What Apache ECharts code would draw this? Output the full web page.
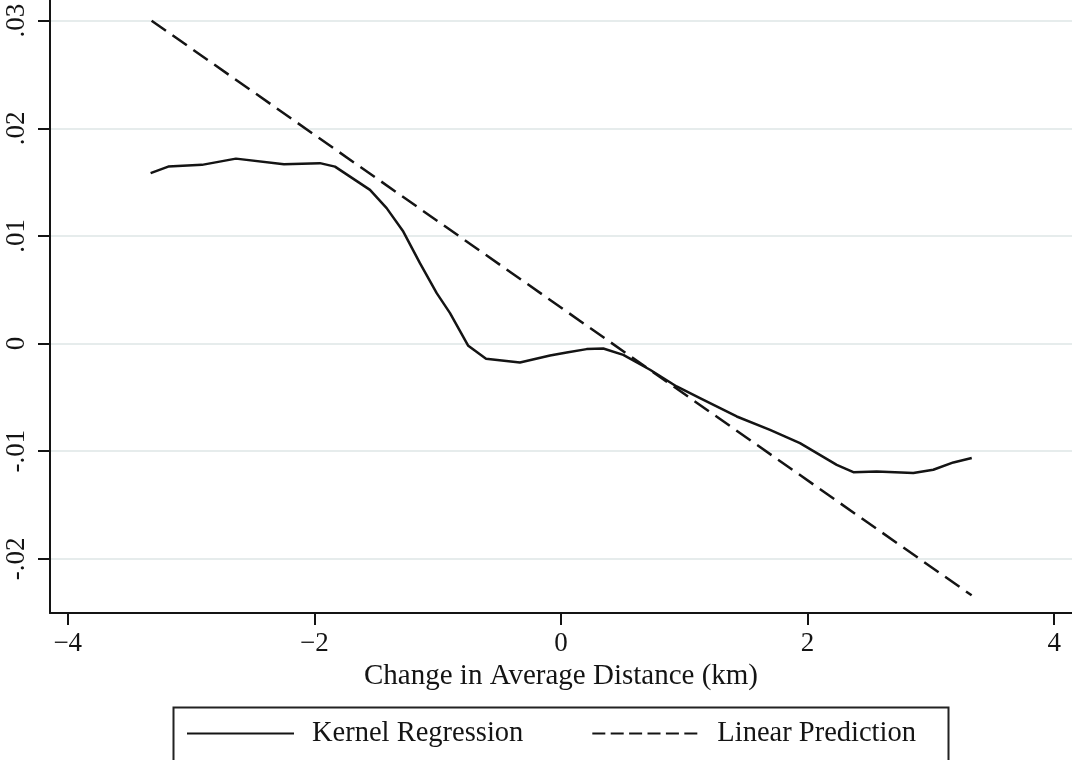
<!DOCTYPE html>
<html>
<head>
<meta charset="utf-8">
<script src="https://cdn.jsdelivr.net/npm/echarts@6/dist/echarts.min.js"></script>
<style>
  html, body { margin: 0; padding: 0; background: #ffffff; }
  #chart { width: 1072px; height: 760px; }
</style>
</head>
<body>
<div id="chart"></div>
<script>
// Kernel regression curve (x in km, y value)
const kernelX = [-3.328, -3.185, -2.912, -2.636, -2.247, -1.955, -1.833, -1.549, -1.414, -1.279,
                 -1.144, -1.008, -0.900, -0.752, -0.608, -0.333, -0.089, 0.046, 0.208, 0.343,
                 0.505, 0.722, 0.938, 1.127, 1.425, 1.695, 1.938, 2.236, 2.371, 2.560,
                 2.857, 3.019, 3.182, 3.331];
const kernelY = [0.01583, 0.01644, 0.01660, 0.01718, 0.01666, 0.01676, 0.01644, 0.01428, 0.01258, 0.01040,
                 0.00747, 0.00468, 0.00282, -0.00021, -0.00142, -0.00176, -0.00111, -0.00084, -0.00052, -0.00046,
                 -0.00105, -0.00244, -0.00399, -0.00507, -0.00678, -0.00802, -0.00925, -0.01127, -0.01195, -0.01189,
                 -0.01204, -0.01173, -0.01105, -0.01064];
// Linear prediction
const linearX = [-3.32, 3.33];
const linearY = [0.0300, -0.0234];
// Tick values
const xTicks = [-4, -2, 0, 2, 4];
const yTicks = [-0.02, -0.01, 0, 0.01, 0.02, 0.03];
const seriesNames = ['Kernel Regression', 'Linear Prediction'];
const xTitle = 'Change in Average Distance (km)';

const zip = (a, b) => a.map((v, i) => [v, b[i]]);
const FONT = 'Liberation Serif';
const INK = '#141414';

const chart = echarts.init(document.getElementById('chart'));
chart.setOption({
  backgroundColor: '#ffffff',
  animation: false,
  grid: { left: 50, right: 0, top: 0, bottom: 147, containLabel: false },
  xAxis: {
    type: 'value',
    min: -4.144, max: 4.144,
    name: xTitle,
    nameLocation: 'middle',
    nameGap: 42,
    nameTextStyle: { fontFamily: FONT, fontSize: 29, color: INK },
    axisLine: { onZero: false, lineStyle: { color: INK, width: 2 } },
    axisTick: { show: true, length: 12, lineStyle: { color: INK, width: 2 }, customValues: xTicks },
    axisLabel: {
      customValues: xTicks, margin: 17,
      fontFamily: FONT, fontSize: 27, color: INK,
      formatter: v => (v < 0 ? '\u2212' + Math.abs(v) : String(v))
    },
    splitLine: { show: false }
  },
  yAxis: {
    type: 'value',
    min: -0.02504, max: 0.03192,
    axisLine: { onZero: false, lineStyle: { color: INK, width: 2 } },
    axisTick: { show: true, length: 12, lineStyle: { color: INK, width: 2 }, customValues: yTicks },
    axisLabel: {
      customValues: yTicks, rotate: 90, margin: 20,
      fontFamily: FONT, fontSize: 27, color: INK,
      formatter: v => {
        if (Math.abs(v) < 1e-9) return '0';
        const s = Math.abs(v).toFixed(2).replace(/^0/, '');
        return (v < 0 ? '-' : '') + s;
      }
    },
    splitLine: { show: true, lineStyle: { color: '#e6ecec', width: 2 } }
  },
  legend: {
    left: 186, top: 719, padding: 0,
    itemWidth: 107, itemHeight: 14, itemGap: 68,
    itemStyle: { opacity: 0 },
    textStyle: { fontFamily: FONT, fontSize: 28.5, color: INK, padding: [0, 0, 0, 13] },
    data: [
      { name: seriesNames[0] },
      { name: seriesNames[1], lineStyle: { type: [13, 5.4] } }
    ]
  },
  graphic: [{
    type: 'rect', z: 100,
    shape: { x: 173.5, y: 707.5, width: 775, height: 80 },
    style: { fill: 'none', stroke: '#222', lineWidth: 2 }
  }],
  series: [
    {
      name: seriesNames[0], type: 'line', showSymbol: false, symbol: 'none',
      data: zip(kernelX, kernelY),
      lineStyle: { color: INK, width: 2.5 },
      itemStyle: { color: INK }
    },
    {
      name: seriesNames[1], type: 'line', showSymbol: false, symbol: 'none',
      data: zip(linearX, linearY),
      lineStyle: { color: INK, width: 2.5, type: [17.5, 8] },
      itemStyle: { color: INK }
    }
  ]
});
</script>
</body>
</html>
